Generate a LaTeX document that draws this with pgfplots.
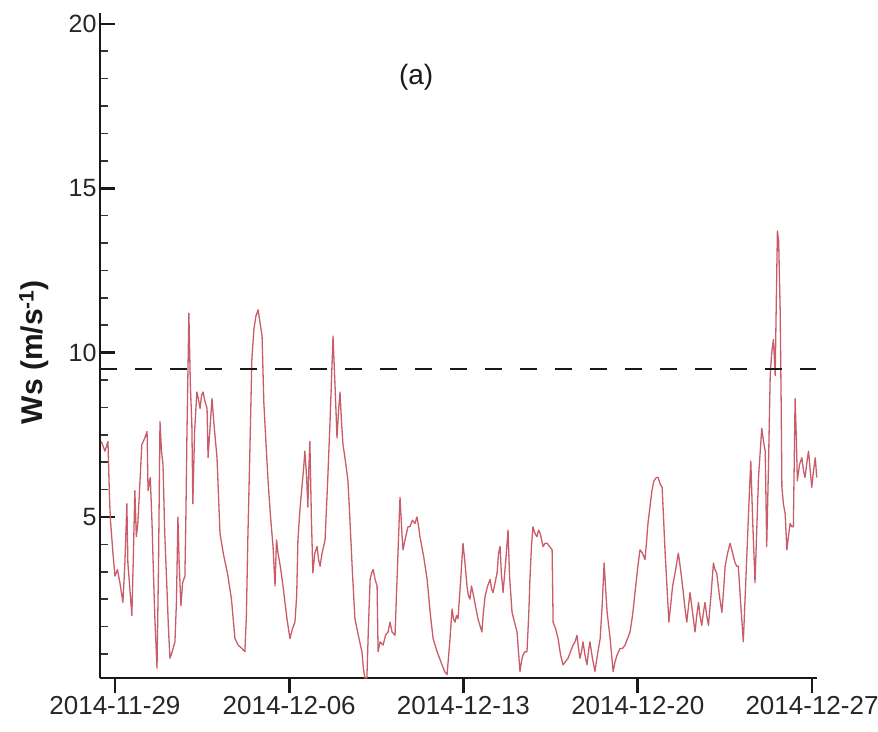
\documentclass[border=0pt]{standalone}
\usepackage{fontspec}
\setmainfont{Liberation Sans}
\usepackage{pgfplots}
\pgfplotsset{compat=1.18}
\definecolor{wsline}{RGB}{202,92,104}
\begin{document}
\begin{tikzpicture}
\useasboundingbox (-100bp,-54bp) rectangle (778bp,678bp);
\begin{axis}[
  at={(0,0)}, anchor=south west,
  width=717bp, height=665bp, scale only axis,
  xmin=-0.6, xmax=28.2, ymin=0.1, ymax=20.33,
  axis x line*=bottom, axis y line*=left,
  axis line style={line width=2.8bp, black!90},
  xtick={0,7,14,21,28},
  xticklabels={2014-11-29,2014-12-06,2014-12-13,2014-12-20,2014-12-27},
  ytick={0,5,10,15,20},
  minor y tick num=5,
  xtick align=outside, ytick align=inside,
  major tick length=15bp, minor tick length=8bp,
  every major tick/.append style={line width=2.6bp, black!90},
  every minor tick/.append style={line width=1.6bp, black!80},
  /pgf/number format/assume math mode=true,
  tick label style={font=\fontsize{25bp}{30bp}\selectfont, text=black!85},
  xticklabel style={font=\fontsize{26bp}{31bp}\selectfont},
  ylabel={Ws (m/s\textsuperscript{-1})},
  ylabel style={font=\fontsize{30bp}{36bp}\selectfont\bfseries, text=black!90,
    at={(axis description cs:-0.0920,0.49)}, anchor=center},
  clip=false,
]
% hourly wind speed record
\addplot[wsline, line width=1.3bp, line join=round] coordinates {
(-0.55,7.3) (-0.40,7.0) (-0.28,7.3) (-0.22,5.6) (-0.18,4.9) (-0.08,3.9)
(0.00,3.2) (0.10,3.4) (0.20,3.0) (0.32,2.4) (0.40,3.6) (0.48,5.4) (0.52,3.6)
(0.60,2.8) (0.68,2.0) (0.74,3.8) (0.80,5.8) (0.86,4.4) (0.92,4.8) (1.00,6.0)
(1.08,7.2) (1.20,7.4) (1.29,7.6) (1.33,5.8) (1.42,6.2) (1.49,4.8) (1.55,3.2)
(1.61,1.8) (1.69,0.4) (1.75,3.5) (1.81,7.9) (1.87,7.0) (1.93,6.6) (2.00,4.5)
(2.09,2.8) (2.15,1.6) (2.21,0.7) (2.30,0.9) (2.41,1.2) (2.47,2.4) (2.53,5.0)
(2.58,3.6) (2.65,2.3) (2.72,3.0) (2.81,3.2) (2.85,5.0) (2.89,7.4) (2.97,11.2)
(3.03,9.0) (3.09,7.8) (3.13,5.4) (3.20,7.6) (3.29,8.8) (3.35,8.6) (3.42,8.3)
(3.48,8.7) (3.54,8.8) (3.62,8.5) (3.70,8.3) (3.74,6.8) (3.80,7.5) (3.90,8.6)
(3.98,7.8) (4.10,6.8) (4.22,4.5) (4.35,3.9) (4.54,3.2) (4.68,2.5) (4.82,1.3)
(4.95,1.1) (5.10,1.0) (5.22,0.9) (5.28,2.0) (5.34,4.4) (5.42,7.0) (5.50,9.8)
(5.58,10.7) (5.66,11.1) (5.75,11.3) (5.83,10.9) (5.91,10.5) (5.98,8.5)
(6.07,7.2) (6.15,6.1) (6.25,5.0) (6.35,4.1) (6.43,2.9) (6.49,4.3) (6.55,3.9)
(6.62,3.6) (6.68,3.3) (6.75,2.9) (6.83,2.4) (6.91,1.9) (7.03,1.3) (7.13,1.6)
(7.23,1.8) (7.30,2.6) (7.35,4.3) (7.43,5.2) (7.51,5.9) (7.57,6.4) (7.63,7.0)
(7.70,6.2) (7.75,5.3) (7.79,6.5) (7.83,7.3) (7.89,5.0) (7.95,3.3) (8.03,3.9)
(8.12,4.1) (8.18,3.7) (8.24,3.5) (8.32,3.9) (8.44,4.3) (8.54,6.0) (8.64,7.9)
(8.70,9.2) (8.76,10.5) (8.84,9.0) (8.92,7.4) (8.98,8.2) (9.04,8.8) (9.10,7.9)
(9.16,7.2) (9.24,6.8) (9.36,6.1) (9.44,4.9) (9.54,3.3) (9.64,1.9) (9.75,1.5)
(9.86,1.1) (9.92,0.9) (9.98,0.4) (10.04,0.1) (10.12,0.1) (10.18,1.6)
(10.25,3.1) (10.31,3.3) (10.37,3.4) (10.45,3.1) (10.53,2.9) (10.57,0.9)
(10.65,1.2) (10.77,1.1) (10.87,1.4) (10.97,1.5) (11.05,1.8) (11.13,1.5)
(11.25,1.4) (11.35,3.5) (11.45,5.6) (11.52,4.6) (11.57,4.0) (11.65,4.3)
(11.77,4.7) (11.85,4.7) (11.95,4.9) (12.05,4.8) (12.13,5.0) (12.20,4.7)
(12.25,4.4) (12.40,3.8) (12.54,3.1) (12.66,2.1) (12.78,1.3) (12.94,0.9)
(13.04,0.7) (13.14,0.5) (13.24,0.3) (13.34,0.2) (13.45,1.2) (13.54,2.2)
(13.60,1.9) (13.66,1.8) (13.72,2.0) (13.78,1.9) (13.88,3.0) (13.98,4.2)
(14.06,3.6) (14.14,2.9) (14.20,2.6) (14.26,2.5) (14.32,2.9) (14.38,2.7)
(14.48,2.3) (14.58,1.9) (14.66,1.7) (14.74,1.5) (14.80,2.1) (14.87,2.6)
(14.97,2.9) (15.07,3.1) (15.13,2.8) (15.19,2.7) (15.27,3.0) (15.35,3.3)
(15.41,3.9) (15.47,4.1) (15.52,3.3) (15.59,2.7) (15.69,3.6) (15.79,4.6)
(15.85,3.2) (15.95,2.1) (16.05,1.8) (16.15,1.5) (16.21,0.9) (16.27,0.3)
(16.33,0.6) (16.39,0.8) (16.47,0.9) (16.55,0.9) (16.62,2.0) (16.67,3.1)
(16.73,4.1) (16.79,4.7) (16.87,4.5) (16.95,4.4) (17.02,4.6) (17.08,4.5)
(17.14,4.3) (17.20,4.1) (17.28,4.2) (17.36,4.2) (17.46,4.1) (17.56,4.0)
(17.60,1.8) (17.70,1.6) (17.80,1.3) (17.90,0.8) (18.00,0.5) (18.10,0.6)
(18.20,0.7) (18.30,0.9) (18.40,1.1) (18.48,1.2) (18.56,1.4) (18.62,1.0)
(18.68,0.7) (18.74,0.9) (18.80,1.2) (18.88,0.8) (18.96,0.5) (19.02,0.9)
(19.08,1.2) (19.18,0.7) (19.28,0.3) (19.38,0.8) (19.49,1.3) (19.57,2.3)
(19.65,3.6) (19.71,2.8) (19.77,2.1) (19.83,1.7) (19.89,1.3) (19.95,0.8)
(20.01,0.3) (20.09,0.6) (20.17,0.8) (20.23,0.9) (20.29,1.0) (20.39,1.0)
(20.49,1.1) (20.59,1.3) (20.69,1.5) (20.79,2.0) (20.89,2.7) (20.99,3.4)
(21.09,4.0) (21.19,3.9) (21.29,3.7) (21.35,4.2) (21.41,4.8) (21.49,5.3)
(21.57,5.8) (21.65,6.1) (21.75,6.2) (21.82,6.2) (21.90,6.0) (21.98,5.9)
(22.04,4.9) (22.10,3.9) (22.18,2.8) (22.25,1.8) (22.32,2.3) (22.40,2.9)
(22.50,3.3) (22.63,3.9) (22.72,3.4) (22.83,2.7) (22.90,2.2) (22.97,1.8)
(23.04,2.3) (23.10,2.7) (23.20,2.1) (23.30,1.5) (23.37,2.0) (23.44,2.4)
(23.50,2.0) (23.57,1.7) (23.64,2.1) (23.70,2.4) (23.77,2.0) (23.84,1.7)
(23.94,2.6) (24.04,3.6) (24.10,3.4) (24.17,3.3) (24.28,2.6) (24.38,2.1)
(24.45,2.8) (24.51,3.5) (24.61,3.9) (24.71,4.2) (24.81,3.9) (24.91,3.6)
(24.98,3.5) (25.04,3.5) (25.14,2.3) (25.24,1.2) (25.31,2.5) (25.38,3.8)
(25.46,5.3) (25.54,6.7) (25.62,4.8) (25.71,3.0) (25.78,4.6) (25.85,6.2)
(25.92,7.0) (25.98,7.7) (26.05,7.3) (26.12,7.0) (26.18,4.1) (26.25,6.5)
(26.32,9.3) (26.38,10.0) (26.45,10.4) (26.52,9.3) (26.57,11.8) (26.61,13.7)
(26.66,13.4) (26.72,11.3) (26.76,8.5) (26.79,5.9) (26.85,5.4) (26.92,5.1)
(26.99,4.0) (27.05,4.4) (27.12,4.8) (27.19,4.7) (27.25,4.7) (27.32,8.6)
(27.37,7.4) (27.41,6.1) (27.50,6.6) (27.59,6.8) (27.66,6.4) (27.72,6.2)
(27.80,6.7) (27.86,7.0) (27.93,6.4) (27.99,5.9) (28.06,6.4) (28.13,6.8)
(28.19,6.2)
};
% threshold level
\addplot[black!90, line width=2bp, dash pattern=on 17bp off 18bp]
  coordinates {(-0.6,9.5) (28.16,9.5)};
\node[font=\fontsize{28bp}{34bp}\selectfont, text=black!90]
  at (rel axis cs:0.441,0.904) {(a)};
\end{axis}
\end{tikzpicture}
\end{document}
